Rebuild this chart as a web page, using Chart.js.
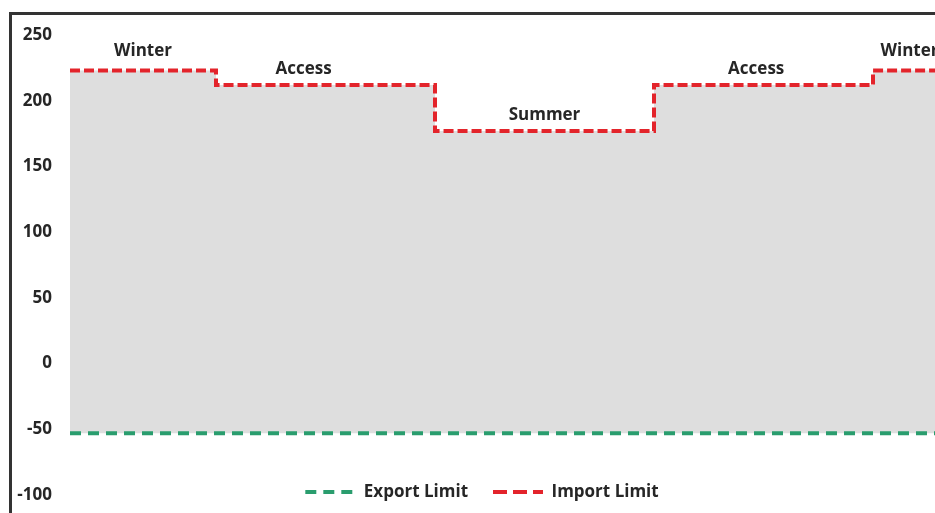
<!DOCTYPE html>
<html>
<head>
<meta charset="utf-8">
<script src="https://cdn.jsdelivr.net/npm/chart.js@4.4.1/dist/chart.umd.min.js"></script>
<style>
  html, body { margin: 0; padding: 0; background: #fff; overflow: hidden; width: 935px; height: 513px; }
  #wrap { position: absolute; left: 0; top: 0; width: 950px; height: 547px; }
  #frame { position: absolute; left: 9px; top: 12px; width: 960px; height: 520px;
           border-top: 3px solid #333; border-left: 3px solid #333; pointer-events: none; }
</style>
</head>
<body>
<div id="wrap"><canvas id="chart"></canvas></div>
<div id="frame"></div>
<script>
// import limit steps (x = months from start of year)
let monthBreaks = [0, 2, 5, 8, 11, 12];
let importLimit = [223, 212, 177, 212, 223, 223];

// export limit, flat
let exportX = [0, 12];
let exportLimit = [-53, -53];

// season names written over the import line
let seasonNames = ['Winter', 'Access', 'Summer', 'Access', 'Winter'];
let seasonLabelX = [1, 3.2, 6.5, 9.4, 11.5];
let seasonLabelY = [223, 212, 177, 212, 223];

// y axis ticks
let yMin = -100;
let yMax = 250;
let yStep = 50;

let textColor = '#262626';
let boldFont = { family: '"Open Sans", sans-serif', weight: 'bold', size: 17 };
let legendDash = [[11, 7], [14, 6]]; // legend swatches use longer dashes

// draw the season names above each step
let seasonLabels = {
    id: 'seasonLabels',
    afterDatasetsDraw(chart) {
        let ctx = chart.ctx;
        let xs = chart.scales.x;
        let ys = chart.scales.y;
        ctx.save();
        ctx.font = 'bold 17px "Open Sans", sans-serif';
        ctx.fillStyle = textColor;
        ctx.textAlign = 'center';
        ctx.textBaseline = 'middle';
        seasonNames.forEach((name, i) => {
            let off = i == 0 || i == 4 ? 19 : 16;
            ctx.fillText(name, xs.getPixelForValue(seasonLabelX[i]), ys.getPixelForValue(seasonLabelY[i]) - off);
        });
        ctx.restore();
    }
};

// excel puts the legend inside the plot, near the bottom
let legendInside = {
    id: 'legendInside',
    afterLayout(chart) {
        let lg = chart.legend;
        let h = lg.height;
        lg.top = 492 - lg.options.labels.padding - 8.5;
        lg.bottom = lg.top + h;
        lg.left += 9;
        lg.right += 9;
    }
};

let theChart = new Chart(document.getElementById('chart'), {
    type: 'line',
    data: {
        datasets: [
            {
                label: 'Export Limit',
                data: exportX.map((x, i) => ({ x: x, y: exportLimit[i] })),
                borderColor: '#2a9d6e',
                backgroundColor: '#2a9d6e',
                borderWidth: 4,
                borderDash: [11, 7],
                pointRadius: 0,
                fill: false
            },
            {
                label: 'Import Limit',
                data: monthBreaks.map((x, i) => ({ x: x, y: importLimit[i] })),
                borderColor: '#e3242b',
                backgroundColor: '#dedede',
                borderWidth: 4,
                borderDash: [10, 4],
                pointRadius: 0,
                stepped: true,
                fill: { target: 0 }
            }
        ]
    },
    options: {
        responsive: true,
        maintainAspectRatio: false,
        animation: false,
        layout: { padding: { top: 35, left: 0, right: 4, bottom: 0 } },
        scales: {
            x: { type: 'linear', min: 0, max: 12, display: false },
            y: {
                min: yMin,
                max: yMax,
                border: { display: false },
                grid: { display: false, drawTicks: false },
                ticks: { stepSize: yStep, padding: 18, color: textColor, font: boldFont },
                afterFit: scale => { scale.width = 70; }
            }
        },
        plugins: {
            legend: {
                position: 'bottom',
                labels: {
                    usePointStyle: true,
                    pointStyle: 'line',
                    pointStyleWidth: 50,
                    padding: 25,
                    color: textColor,
                    font: boldFont,
                    // point style labels lose the dataset dash, so put it back
                    generateLabels: chart => {
                        let items = Chart.defaults.plugins.legend.labels.generateLabels(chart);
                        items.forEach(item => {
                            let ds = chart.data.datasets[item.datasetIndex];
                            item.lineDash = legendDash[item.datasetIndex];
                            item.lineWidth = 4;
                            item.strokeStyle = ds.borderColor;
                            item.fillStyle = ds.borderColor;
                            item.pointStyle = 'line';
                        });
                        return items;
                    }
                }
            },
            tooltip: { enabled: false }
        }
    },
    plugins: [seasonLabels, legendInside]
});
</script>
</body>
</html>
